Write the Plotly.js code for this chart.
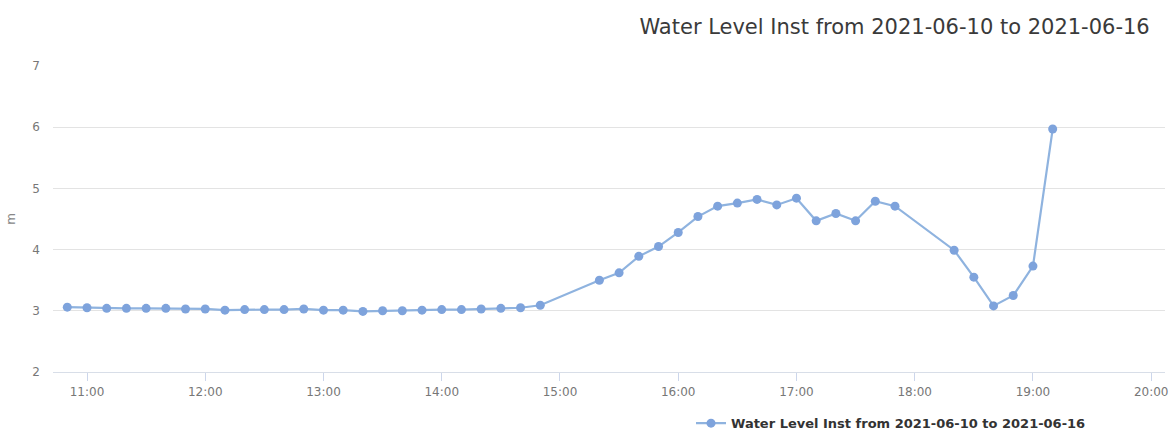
<!DOCTYPE html>
<html>
<head>
<meta charset="utf-8">
<script src="https://cdn.plot.ly/plotly-3.0.1.min.js"></script>
<style>html,body{margin:0;padding:0;background:#fff;}#chart{width:1172px;height:439px;}</style>
</head>
<body>
<div id="chart"></div>
<script>
const seriesName = "Water Level Inst from 2021-06-10 to 2021-06-16";
const day = "2021-06-16";
const times = ["10:50","11:00","11:10","11:20","11:30","11:40","11:50","12:00","12:10","12:20","12:30","12:40","12:50",
  "13:00","13:10","13:20","13:30","13:40","13:50","14:00","14:10","14:20","14:30","14:40","14:50",
  "15:20","15:30","15:40","15:50","16:00","16:10","16:20","16:30","16:40","16:50",
  "17:00","17:10","17:20","17:30","17:40","17:50","18:20","18:30","18:40","18:50","19:00","19:10"];
const levels = [3.06,3.05,3.04,3.04,3.04,3.04,3.03,3.03,3.01,3.02,3.02,3.02,3.03,
  3.01,3.01,2.99,3.00,3.00,3.01,3.02,3.02,3.03,3.04,3.05,3.09,
  3.50,3.62,3.89,4.05,4.28,4.54,4.71,4.76,4.82,4.73,
  4.84,4.47,4.59,4.47,4.79,4.71,3.99,3.55,3.08,3.25,3.73,5.97];
const yTitle = "m";

const x = times.map(t => day + " " + t);

const trace = {
  x: x, y: levels, name: seriesName, type: "scatter", mode: "lines+markers",
  line: {color: "#8fb3df", width: 2.2},
  marker: {color: "#7ea3dc", size: 9, symbol: "circle"}
};

const layout = {
  width: 1172, height: 439,
  margin: {l: 53, r: 7, t: 66, b: 67, autoexpand: false},
  paper_bgcolor: "#ffffff", plot_bgcolor: "#ffffff",
  font: {family: "DejaVu Sans, Verdana, sans-serif", color: "#666666"},
  title: {
    text: seriesName, xref: "container", yref: "container",
    x: 0.981, xanchor: "right", y: 0.94, yanchor: "middle",
    font: {size: 21, color: "#3a3a3a", family: "DejaVu Sans, sans-serif"}
  },
  xaxis: {
    type: "date", automargin: false,
    range: [day + " 10:42:45", day + " 20:07"],
    tickformat: "%H:%M", dtick: 3600000, tick0: day + " 11:00",
    showgrid: false, zeroline: false,
    showline: true, linecolor: "#d8dee8", linewidth: 1,
    ticks: "outside", ticklen: 8, tickcolor: "#ccd6eb", tickwidth: 1,
    tickfont: {size: 12, color: "#777777"},
    ticklabelstandoff: 1
  },
  yaxis: {
    range: [2, 7], dtick: 1, tick0: 2, automargin: false,
    showgrid: true, gridcolor: "#e3e3e3", gridwidth: 1,
    zeroline: false, showline: false, ticks: "",
    tickfont: {size: 12, color: "#777777"},
    ticklabelstandoff: 12,
    title: {text: yTitle, font: {size: 12, color: "#888888"}, standoff: 14}
  },
  showlegend: true,
  legend: {
    orientation: "h", xref: "container", yref: "container",
    x: 0.5896, xanchor: "left", y: 0.036, yanchor: "middle",
    font: {size: 13, color: "#333333", weight: "bold"},
    bgcolor: "rgba(0,0,0,0)"
  }
};

Plotly.newPlot("chart", [trace], layout, {displayModeBar: false, staticPlot: true});
</script>
</body>
</html>
